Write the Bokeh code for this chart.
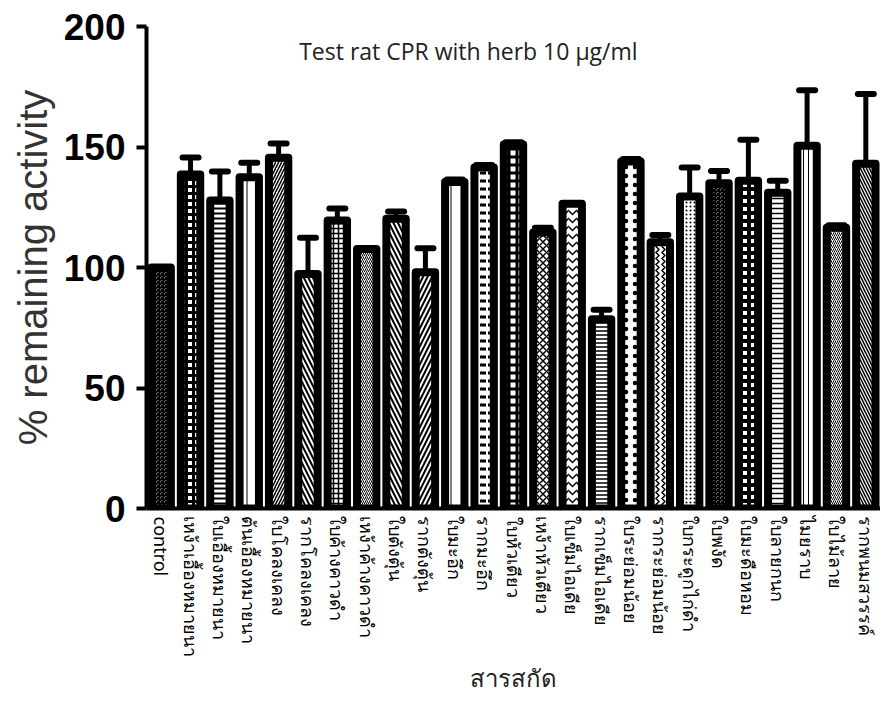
from bokeh.plotting import figure
from bokeh.models import ColumnDataSource, FactorRange, Whisker, TeeHead, Label
from bokeh.embed import file_html
from bokeh.resources import INLINE

labels = ["control", "เหง้าเอื้องหมายนา", "ใบเอื้องหมายนา", "ต้นเอื้องหมายนา",
          "ใบโคลงเคลง", "รากโคลงเคลง", "ใบค้างคาวดำ", "เหง้าค้างคาวดำ",
          "ใบตังตุ้น", "รากตังตุ้น", "ใบมะอึก", "รากมะอึก",
          "ใบหัวเตียว", "เหง้าหัวเตียว", "ใบเข็มไอเดีย", "รากเข็มไอเดีย",
          "ใบระย่อมน้อย", "รากระย่อมน้อย", "ใบกระดูกไก่ดำ", "ใบพงัด",
          "ใบมะดือหอม", "ใบลายกนก", "ไมยราบ", "ใบไม้ลาย", "รากพนมสวรรค์"]
values = [100, 138.6, 127.8, 137.5, 145.5, 97.3, 119.5, 107.7, 120.2, 98.0,
          135.5, 141.5, 151.0, 114.5, 126.5, 78.5, 144.0, 110.5, 129.5, 135.0,
          136.0, 131.0, 150.5, 116.5, 143.0]
errors = [0, 7, 12, 6, 6, 15, 5, 0, 3, 10,
          1, 1, 1, 2, 0, 4, 1, 3, 12, 5,
          17, 5, 23, 1, 29]
patterns = ["criss_cross", "cross", "horizontal_line", "vertical_line", "right_diagonal_line",
            "left_diagonal_line", "cross", "right_diagonal_line", "left_diagonal_line", "right_diagonal_line",
            "vertical_line", "horizontal_dash", "cross", "diagonal_cross", "horizontal_wave",
            "horizontal_line", "dot", "vertical_wave", "dot", "criss_cross",
            "cross", "horizontal_line", "vertical_line", "right_diagonal_line", "left_diagonal_line"]
pattern_scale = [4, 7, 5, 12, 6, 9, 5, 4, 9, 9,
                 12, 8, 8, 7, 8, 4, 9, 6, 4, 4,
                 8, 5, 5, 4, 6]
pattern_weight = [1.5, 3, 2, 1, 1.5, 2, 1.5, 1, 2, 2,
                  1, 3, 3, 1.5, 1.5, 1.5, 1.5, 1.5, 1, 1.5,
                  4, 1.5, 1, 1, 1.5]

src = ColumnDataSource(dict(x=labels, top=values, pat=patterns, sc=pattern_scale, wt=pattern_weight))

wx = [l for l, e in zip(labels, errors) if e > 0]
wlow = [v for v, e in zip(values, errors) if e > 0]
wup = [v + e for v, e in zip(values, errors) if e > 0]
wsrc = ColumnDataSource(dict(x=wx, lower=wlow, upper=wup))

p = figure(x_range=FactorRange(*labels, range_padding=0), y_range=(0, 200),
           width=880, height=696, output_backend="svg", toolbar_location=None,
           min_border_left=146, min_border_right=0, min_border_top=26, min_border_bottom=188)
p.x_range.factor_padding = 0

w = Whisker(base="x", lower="lower", upper="upper", source=wsrc, dimension="height",
            line_width=5, line_color="black",
            upper_head=TeeHead(size=16, line_width=6, line_color="black", line_cap="round"),
            lower_head=None)
p.add_layout(w)

p.vbar(x="x", top="top", bottom=0, width=0.66, source=src, fill_color="white",
       line_color="black", line_width=8, line_join="round",
       hatch_pattern="pat", hatch_scale="sc", hatch_weight="wt", hatch_color="black")

p.add_layout(Label(x=5.2, y=190, text="Test rat CPR with herb 10 µg/ml",
                   text_font="Open Sans", text_font_size="23px", text_color="#222222",
                   text_baseline="alphabetic"))

p.xgrid.visible = False
p.ygrid.visible = False
p.outline_line_color = None

p.yaxis.ticker = [0, 50, 100, 150, 200]
p.yaxis.axis_line_width = 4
p.yaxis.major_tick_line_width = 4
p.yaxis.major_tick_out = 10
p.yaxis.major_tick_in = 0
p.yaxis.minor_tick_line_color = None
p.yaxis.major_label_text_font = "Liberation Sans"
p.yaxis.major_label_text_font_style = "bold"
p.yaxis.major_label_text_font_size = "37px"
p.yaxis.major_label_text_color = "black"
p.yaxis.major_label_standoff = 11
p.yaxis.axis_label = "% remaining activity"
p.yaxis.axis_label_text_font = "Liberation Sans"
p.yaxis.axis_label_text_font_style = "normal"
p.yaxis.axis_label_text_font_size = "40px"
p.yaxis.axis_label_text_color = "#333333"
p.yaxis.axis_label_standoff = 6

p.xaxis.axis_line_width = 4
p.xaxis.major_tick_line_color = None
p.xaxis.major_label_orientation = "vertical"
p.xaxis.major_label_text_font = "Noto Sans"
p.xaxis.major_label_text_font_size = "18px"
p.xaxis.major_label_text_color = "black"
p.xaxis.major_label_standoff = 2
p.xaxis.axis_label = "สารสกัด"
p.xaxis.axis_label_text_font = "Noto Sans"
p.xaxis.axis_label_text_font_style = "normal"
p.xaxis.axis_label_text_font_size = "24px"
p.xaxis.axis_label_text_color = "#222222"
p.xaxis.axis_label_standoff = 0

open("out.html", "w").write(file_html(p, INLINE))
